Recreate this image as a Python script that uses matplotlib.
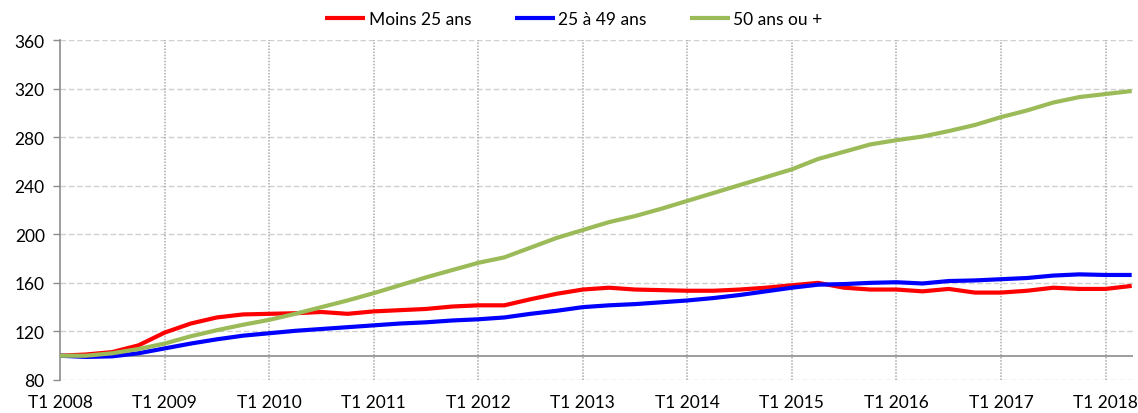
"""Indice d'evolution (base 100 au T1 2008) par tranche d'age, trimestriel."""
import matplotlib
matplotlib.use("Agg")
import matplotlib.pyplot as plt

YEARS = list(range(2008, 2019))
TICK_LABELS = [f"T1 {y}" for y in YEARS]

SERIES_NAMES = ["Moins 25 ans", "25 à 49 ans", "50 ans ou +"]

# T1 2008 .. T2 2018 (42 trimestres)
moins_25 = [100, 101, 103, 108.5, 119, 126.5, 131.5, 134, 134.5, 135,
            136, 134.5, 136.5, 137.5, 138.5, 140.5, 141.5, 141.5, 146.5, 151,
            154.5, 156, 154.5, 154, 153.5, 153.5, 154.5, 156, 158, 160,
            156, 154.5, 154.5, 153, 155, 152, 152, 153.5, 156, 155,
            155, 157.5]
de_25_49 = [100, 99, 99.5, 102, 106, 110, 113.5, 116.5, 118.5, 120.5,
            122, 123.5, 125, 126.5, 127.5, 129, 130, 131.5, 134.5, 137,
            140, 141.5, 142.5, 144, 145.5, 147.5, 150, 153, 156, 158.5,
            159, 160, 160.5, 159.5, 161.5, 162, 163, 164, 166, 167,
            166.5, 166.5]
plus_50 = [100, 100, 102, 105.5, 110, 116, 121, 125.5, 129.5, 134.5,
           140, 145.5, 151.5, 158, 164.5, 170.5, 176.5, 181, 189, 197,
           203.5, 210, 215, 221, 227.5, 234, 240.5, 247, 253.5, 262,
           268, 274, 277.5, 280.5, 285, 290, 296.5, 302, 308.5, 313,
           315.5, 318]

COLORS = ["#FF0000", "#0000FF", "#9BBB59"]


def main():
    plt.rcParams["font.family"] = ["Lato", "DejaVu Sans"]
    fig = plt.figure(figsize=(11.38, 4.14), dpi=100)
    ax = fig.add_axes([60 / 1138, 1 - 381 / 414, (1133 - 60) / 1138, 340 / 414])

    x = list(range(len(plus_50)))
    for vals, name, col in zip([moins_25, de_25_49, plus_50], SERIES_NAMES, COLORS):
        ax.plot(x, vals, color=col, lw=3, label=name, solid_capstyle="butt", zorder=3)

    ax.set_xlim(0, len(x) - 1 + 0.05)
    ax.set_ylim(80, 360)
    ax.set_yticks(range(80, 361, 40))

    # horizontal grid: light dashed
    for yv in range(80, 361, 40):
        ax.axhline(yv, color="#D0D0D0", lw=1, ls=(0, (4, 2)), zorder=1)
    # vertical grid at each T1: dotted gray
    year_pos = [4 * i for i in range(len(YEARS))]
    for xv in year_pos[1:]:
        ax.axvline(xv, color="#ABABAB", lw=1.1, ls=(0, (1, 1)), zorder=1)
    # axis line at base 100
    ax.axhline(100, color="#8C8C8C", lw=1.2, zorder=2)

    ax.set_xticks(year_pos)
    ax.set_xticklabels(TICK_LABELS)
    ax.tick_params(axis="x", length=0, pad=10, labelsize=12.5, colors="black")
    ax.tick_params(axis="y", length=5, width=1, color="#8C8C8C", pad=6, labelsize=12.5)

    for side in ["top", "right", "bottom"]:
        ax.spines[side].set_visible(False)
    ax.spines["left"].set_color("#8C8C8C")
    ax.spines["left"].set_linewidth(1.2)

    fig.legend(loc="center", bbox_to_anchor=(574 / 1138, 1 - 20 / 414), ncol=3,
               frameon=False, fontsize=12.5, handlelength=2.3, handletextpad=0.2,
               columnspacing=2.5, borderaxespad=0)

    fig.savefig("out.png", dpi=100)


if __name__ == "__main__":
    main()
